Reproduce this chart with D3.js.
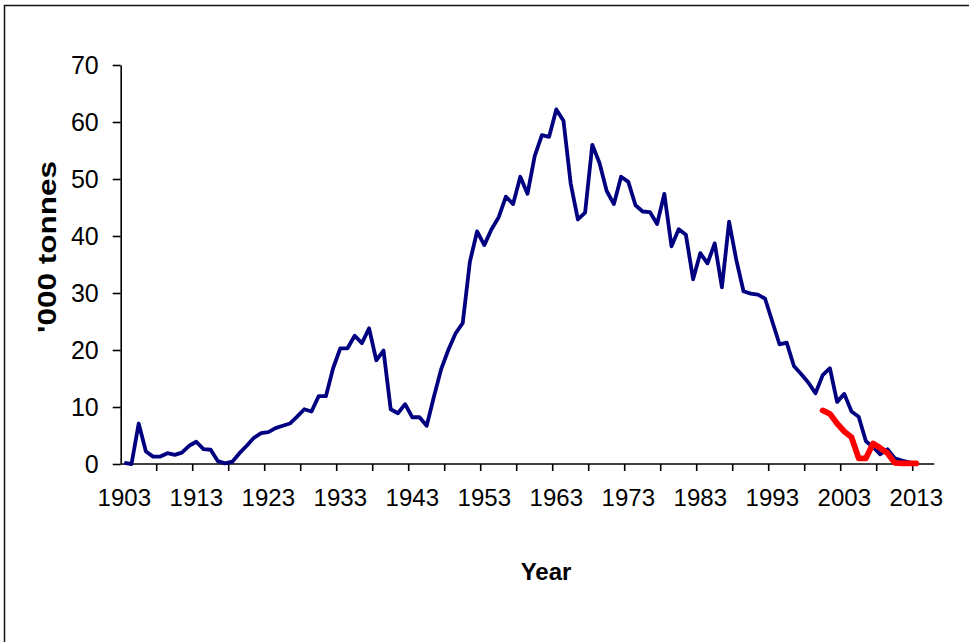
<!DOCTYPE html>
<html>
<head>
<meta charset="utf-8">
<script src="https://cdn.jsdelivr.net/npm/d3@7"></script>
<style>
  html, body { margin: 0; padding: 0; background: #fff; }
  svg { display: block; }
  text { font-family: "Liberation Sans", Arial, sans-serif; fill: #000; }
</style>
</head>
<body>
<svg id="chart" width="969" height="642"></svg>
<script>
// ---- data ----
const years = d3.range(1903, 2016); // category axis 1903..2015
const totalCatch = [
  0.2, 0.0, 7.1, 2.2, 1.3, 1.3, 1.9, 1.6, 2.0, 3.2,   // 1903-1912
  3.9, 2.6, 2.5, 0.5, 0.1, 0.4, 1.9, 3.2, 4.6, 5.4,   // 1913-1922
  5.6, 6.3, 6.7, 7.1, 8.3, 9.6, 9.2, 11.9, 11.9, 16.8, // 1923-1932
  20.3, 20.3, 22.5, 21.2, 23.8, 18.2, 19.9, 9.6, 8.9, 10.5, // 1933-1942
  8.2, 8.2, 6.7, 11.8, 16.6, 20.0, 22.9, 24.7, 35.5, 40.8, // 1943-1952
  38.4, 41.2, 43.3, 46.9, 45.6, 50.4, 47.4, 54.0, 57.7, 57.4, // 1953-1962
  62.2, 60.2, 49.2, 42.9, 44.1, 56.0, 52.8, 47.9, 45.6, 50.4, // 1963-1972
  49.5, 45.4, 44.3, 44.2, 42.1, 47.4, 38.2, 41.2, 40.2, 32.4, // 1973-1982
  37.0, 35.2, 38.7, 31.0, 42.5, 35.8, 30.3, 29.9, 29.7, 29.0, // 1983-1992
  25.0, 21.0, 21.3, 17.2, 15.8, 14.3, 12.4, 15.6, 16.8, 10.9, // 1993-2002
  12.3, 9.2, 8.3, 4.0, 3.0, 1.7, 2.6, 1.0, 0.6, 0.3,   // 2003-2012
  0.1, null, null                                      // 2013-2015
];
const secondSeriesYears = d3.range(2000, 2014);
const secondSeries = [9.4, 8.8, 7.1, 5.7, 4.7, 1.0, 1.0, 3.6, 2.8, 1.9, 0.2, 0.1, 0.1, 0.1];
const yTicks = [0, 10, 20, 30, 40, 50, 60, 70];
const xLabelYears = d3.range(1903, 2016, 10);
const xTickEvery = 5;
const yTitle = "'000 tonnes";
const xTitle = "Year";

// ---- layout ----
const svg = d3.select("#chart");
const plot = { left: 120.7, right: 934.3, top: 65, bottom: 464 };

// frame (only top and left edges visible in the reference)
svg.append("path")
  .attr("d", "M4.5,642V5.5H969")
  .attr("fill", "none")
  .attr("stroke", "#111")
  .attr("stroke-width", 1.5);

const x = d3.scaleBand().domain(years).range([plot.left, plot.right]).padding(0);
const xc = yr => x(yr) + x.bandwidth() / 2;
const y = d3.scaleLinear().domain([0, 70]).range([plot.bottom, plot.top]);

// y axis
const yAxis = d3.axisLeft(y).tickValues(yTicks).tickSize(8).tickSizeOuter(0).tickPadding(14);
const gy = svg.append("g").attr("transform", `translate(${plot.left},0)`).call(yAxis);
gy.select(".domain").attr("stroke", "#000").attr("stroke-width", 1.6);
gy.selectAll(".tick line").attr("stroke", "#000").attr("stroke-width", 1.6);
gy.selectAll(".tick text")
  .attr("font-size", 25)
  .attr("font-family", "Liberation Sans, Arial, sans-serif")
  .attr("fill", "#000");

// x axis: labels at category centers, ticks at category boundaries
const xAxis = d3.axisBottom(x).tickValues(xLabelYears).tickSize(0).tickSizeOuter(0).tickPadding(25);
const gx = svg.append("g").attr("transform", `translate(0,${plot.bottom})`).call(xAxis);
gx.select(".domain").remove();
gx.selectAll(".tick text")
  .attr("font-size", 24)
  .attr("font-family", "Liberation Sans, Arial, sans-serif")
  .attr("fill", "#000");

const boundaryYears = years.filter((d, i) => i % xTickEvery === 0 && i > 0);
gx.selectAll("line.cat-tick").data(boundaryYears).enter().append("line")
  .attr("class", "cat-tick")
  .attr("x1", d => x(d)).attr("x2", d => x(d))
  .attr("y1", 0).attr("y2", 7)
  .attr("stroke", "#000").attr("stroke-width", 1.6);
gx.append("line")
  .attr("x1", plot.left).attr("x2", plot.right)
  .attr("y1", 0).attr("y2", 0)
  .attr("stroke", "#000").attr("stroke-width", 1.6);

// lines
const line = d3.line()
  .defined(d => d.v !== null)
  .x(d => xc(d.year))
  .y(d => y(d.v));

svg.append("path")
  .datum(years.map((yr, i) => ({ year: yr, v: totalCatch[i] })))
  .attr("fill", "none")
  .attr("stroke", "#000080")
  .attr("stroke-width", 3.8)
  .attr("stroke-linejoin", "round")
  .attr("d", line);

svg.append("path")
  .datum(secondSeriesYears.map((yr, i) => ({ year: yr, v: secondSeries[i] })))
  .attr("fill", "none")
  .attr("stroke", "#FF0000")
  .attr("stroke-width", 5.8)
  .attr("stroke-linejoin", "round")
  .attr("stroke-linecap", "round")
  .attr("d", line);

// titles
svg.append("text")
  .attr("x", 546).attr("y", 580)
  .attr("text-anchor", "middle")
  .attr("font-size", 24)
  .attr("font-weight", "bold")
  .text(xTitle);

svg.append("text")
  .attr("transform", "translate(56,247) rotate(-90)")
  .attr("text-anchor", "middle")
  .attr("font-size", 26)
  .attr("font-weight", "bold")
  .attr("textLength", 172)
  .attr("lengthAdjust", "spacingAndGlyphs")
  .text(yTitle);
</script>
</body>
</html>
